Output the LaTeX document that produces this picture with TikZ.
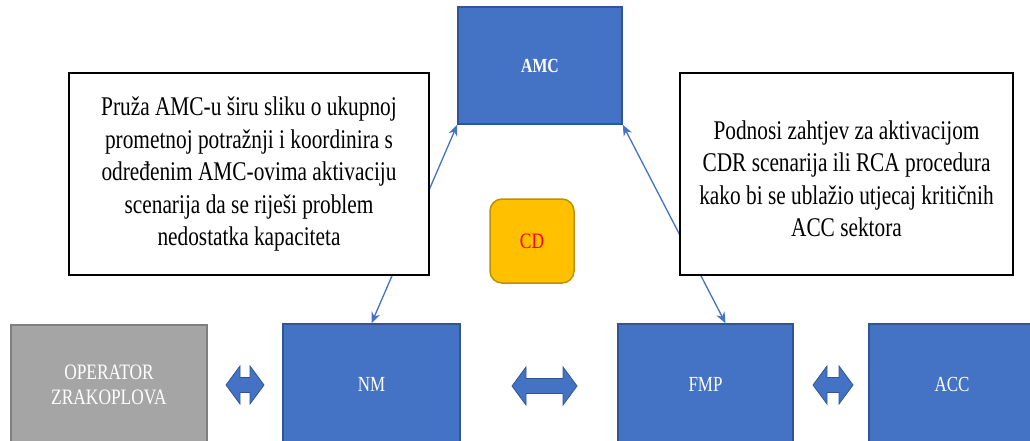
\documentclass[tikz,border=0pt]{standalone}
\usepackage{fontspec}
\setmainfont{Liberation Serif}[FakeStretch=0.79]
\usetikzlibrary{arrows.meta}
\definecolor{bl}{HTML}{4472C4}
\definecolor{bldark}{HTML}{2F5597}
\definecolor{gr}{HTML}{A5A5A5}
\definecolor{grdark}{HTML}{7F7F7F}
\definecolor{gold}{HTML}{FFC000}
\definecolor{golddark}{HTML}{BF9000}
\pgfdeclarelayer{back}
\pgfdeclarelayer{bg}
\pgfsetlayers{back,bg,main}
\tikzset{
  bluebox/.style={draw=bldark, line width=1.5pt, fill=bl, text=white, inner sep=0pt,
    minimum height=120pt, font=\fontsize{21.5}{25}\selectfont},
  graybox/.style={draw=grdark, line width=2pt, fill=gr, text=white, inner sep=0pt,
    minimum height=120pt, align=center, font=\fontsize{22}{25}\selectfont},
  txtbox/.style={draw=black, line width=2.5pt, fill=white, inner sep=0pt, align=center,
    minimum height=202pt, font=\fontsize{27}{32.5}\selectfont},
  txtonly/.style={inner sep=0pt, align=center, font=\fontsize{27}{32.5}\selectfont},
  cdbox/.style={draw=golddark, line width=1.5pt, fill=gold, text=red, rounded corners=12pt,
    inner sep=0pt, minimum width=84pt, minimum height=84pt, font=\fontsize{22}{25}\selectfont},
  conn/.style={draw=bl, line width=1.3pt, {Stealth[length=11pt,width=9pt]}-{Stealth[length=11pt,width=9pt]}},
  blockarrow/.pic={\filldraw[fill=bl, draw=bldark, line width=0.8pt]
    (-#1,0) -- (-#1+14,-19) -- (-#1+14,-7.5) -- (#1-14,-7.5) -- (#1-14,-19) -- (#1,0)
    -- (#1-14,19) -- (#1-14,7.5) -- (-#1+14,7.5) -- (-#1+14,19) -- cycle;}
}
\begin{document}
\begin{tikzpicture}[x=1pt,y=-1pt]
\useasboundingbox (0,0) rectangle (1030,441);
\clip (0,0) rectangle (1030,441);
\begin{pgfonlayer}{back}
\fill[white] (0,0) rectangle (1030,441);
\end{pgfonlayer}

\node[bluebox, minimum width=164pt, minimum height=117pt,
  font=\bfseries\fontsize{20}{24}\selectfont] (amc) at (540,65.5) {AMC};
\node[cdbox] (cd) at (532,241) {CD};

\node[graybox, minimum width=196pt] (op) at (109,385) {OPERATOR\\ZRAKOPLOVA};
\node[bluebox, minimum width=177pt] (nm) at (371.5,384) {NM};
\node[bluebox, minimum width=175pt] (fmp) at (705.5,384) {FMP};
\node[bluebox, minimum width=166pt] (acc) at (952,384) {ACC};

\begin{pgfonlayer}{bg}
\draw[conn] (nm.north) -- (amc.south west);
\draw[conn] ([xshift=20pt]fmp.north) -- (amc.south east);
\end{pgfonlayer}

\node[txtbox, minimum width=360pt] (txtL) at (249,174)
  {Pruža AMC-u širu sliku o ukupnoj\\prometnoj potražnji i koordinira s\\određenim AMC-ovima aktivaciju\\scenarija da se riješi problem\\nedostatka kapaciteta};
\node[txtbox, minimum width=333pt] (txtR) at (846.5,174) {};
\node[txtonly] (txtRt) at ([yshift=-5pt]txtR.center)
  {Podnosi zahtjev za aktivacijom\\CDR scenarija ili RCA procedura\\kako bi se ublažio utjecaj kritičnih\\ACC sektora};

\pic (arrA) at (245,385) {blockarrow=19};
\pic (arrB) at (544.5,386) {blockarrow=32.5};
\pic (arrC) at (833,385) {blockarrow=20};
\end{tikzpicture}
\end{document}
